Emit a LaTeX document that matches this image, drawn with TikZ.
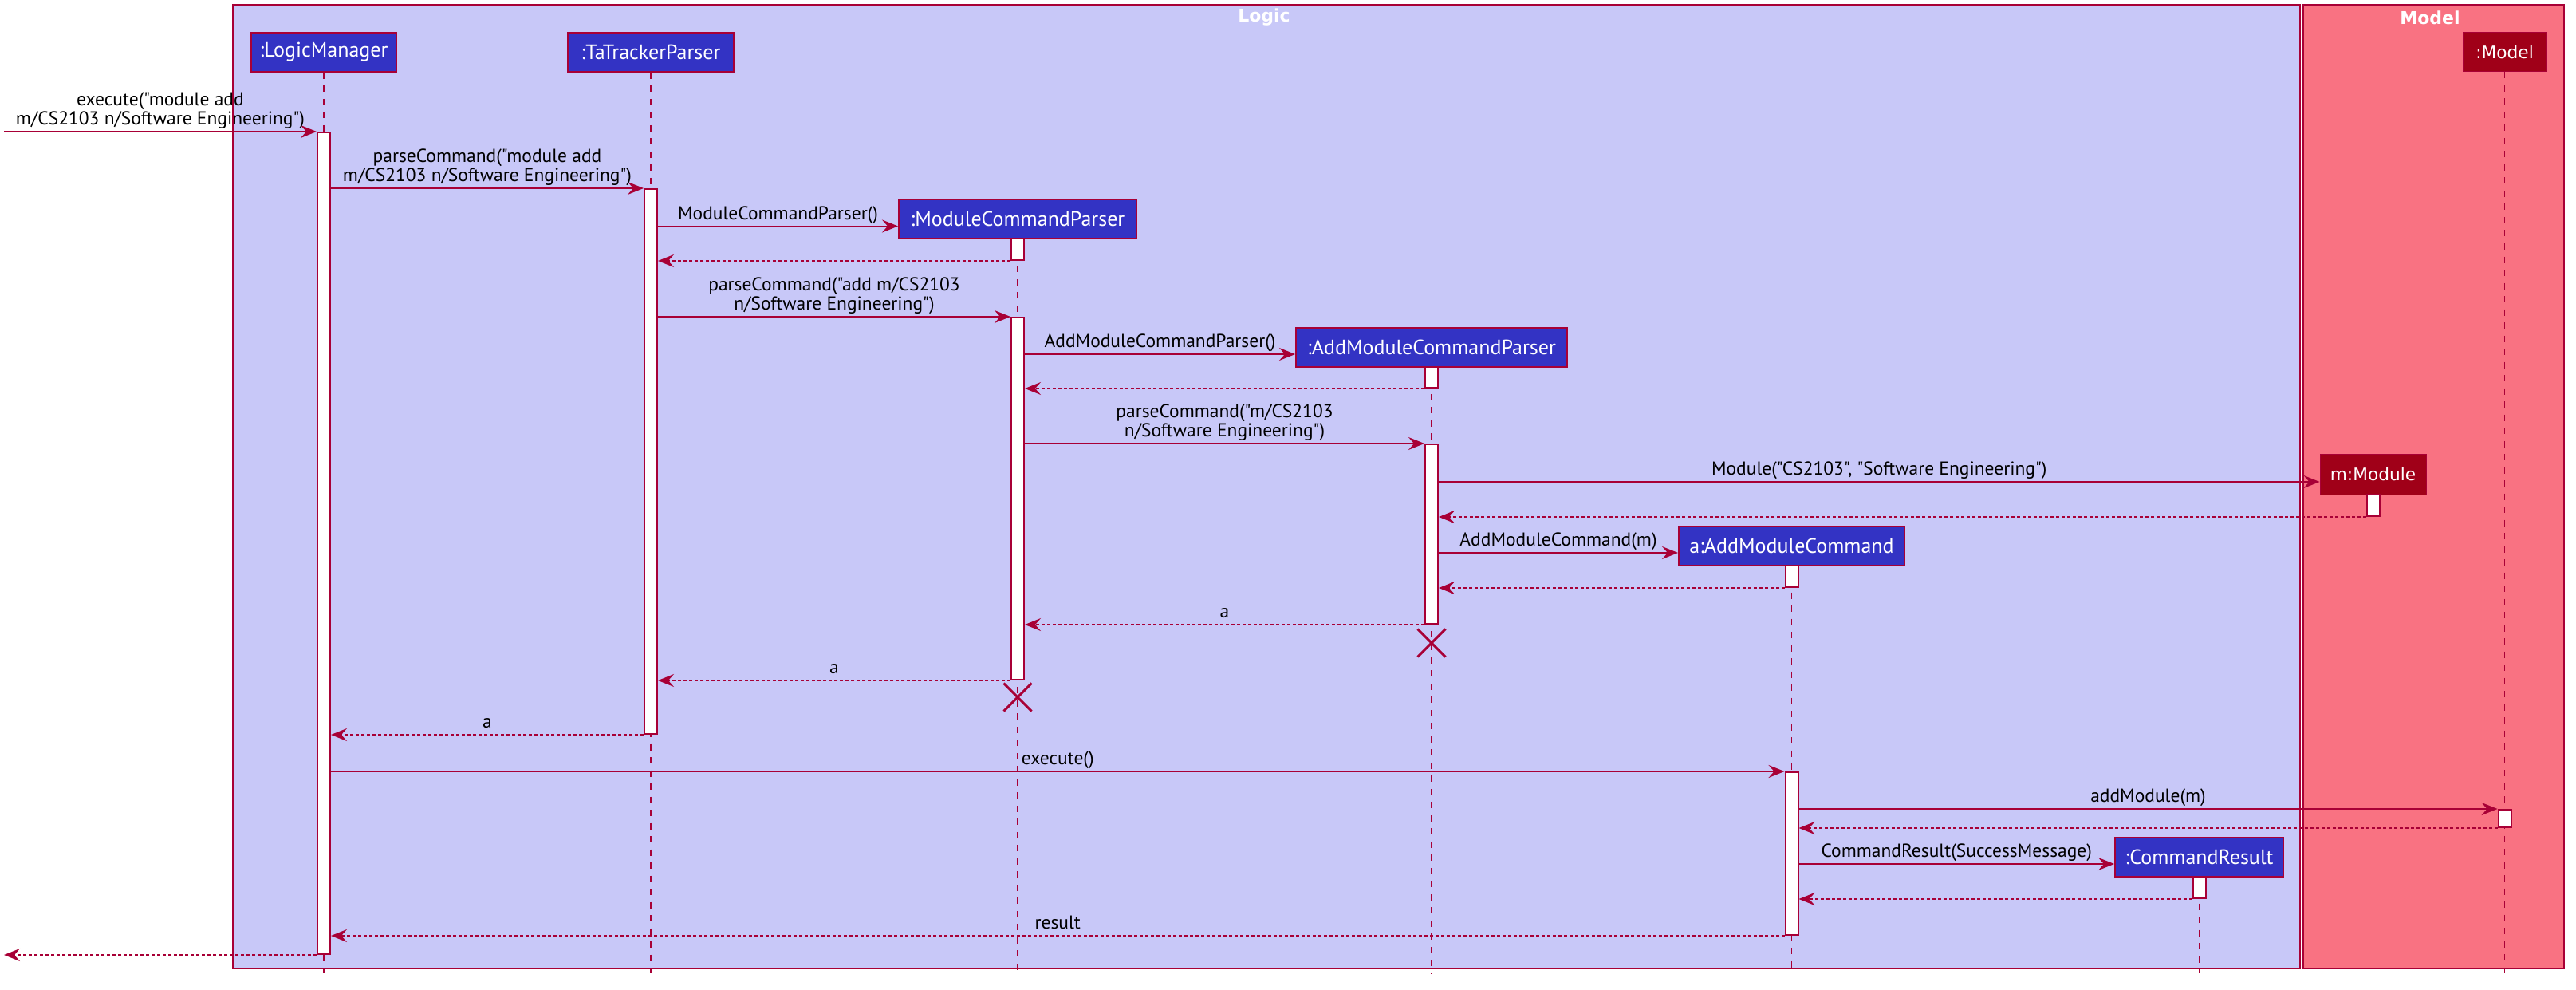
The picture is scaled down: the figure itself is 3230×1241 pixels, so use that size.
\documentclass[tikz,border=0pt]{standalone}
\usepackage{fontspec}
\usetikzlibrary{arrows.meta,calc,shapes.misc}
\newfontfamily\lblf{PT Sans}
\newfontfamily\djv{DejaVu Sans}
\definecolor{bord}{HTML}{A80036}
\definecolor{logicbg}{HTML}{C8C8F8}
\definecolor{modelbg}{HTML}{F97282}
\definecolor{partbg}{HTML}{3333C4}
\definecolor{modpart}{HTML}{A00018}
\pgfdeclarelayer{back}
\pgfdeclarelayer{mid}
\pgfsetlayers{back,mid,main}
\tikzset{
  frame/.style={draw=bord, line width=2pt},
  ftitle/.style={font=\djv\bfseries\fontsize{22}{26}\selectfont, text=white, inner sep=0pt},
  part/.style={rectangle, draw=bord, line width=2pt, fill=partbg, text=white,
    font=\lblf\fontsize{26}{30}\selectfont, minimum height=49pt, inner sep=0pt},
  mpart/.style={part, fill=modpart, line width=1pt, font=\djv\fontsize{21.7}{26}\selectfont},
  life/.style={draw=bord, line width=1.5pt, dash pattern=on 8pt off 8.5pt},
  actbar/.style={rectangle, draw=bord, fill=white, line width=2pt, minimum width=16pt, inner sep=0pt},
  msg/.style={draw=bord, line width=1.7pt, -{Stealth[length=20pt,width=16pt,inset=7pt]}},
  ret/.style={msg, dash pattern=on 4pt off 3pt},
  lbl/.style={midway, anchor=south, inner sep=0pt, align=center, text=black,
    font=\lblf\fontsize{23.5}{24}\selectfont},
  xmark/.style={cross out, draw=bord, line width=3pt, minimum size=32pt, inner sep=0pt}
}
\begin{document}
\begin{tikzpicture}[x=1pt,y=-1pt]
\useasboundingbox (0,0) rectangle (3230,1241);
% frames
\begin{pgfonlayer}{back}
\draw[frame, fill=logicbg] (292,6) rectangle (2884,1214);
\draw[frame, fill=modelbg] (2888,6) rectangle (3215,1214);
\end{pgfonlayer}
\node[ftitle] (logicT) at (1585,22) {Logic};
\node[ftitle] (modelT) at (3047,22) {Model};
\coordinate (bot) at (0,1220);
\coordinate (ext) at (5,0);
% participants
\node[part, minimum width=182pt] (lm) at (406,65.5) {:LogicManager};
\node[part, minimum width=208pt] (tp) at (816,65.5) {:TaTrackerParser};
\node[part, minimum width=298pt] (mcp) at (1276,274.5) {:ModuleCommandParser};
\node[part, minimum width=340pt] (amcp) at (1795,435) {:AddModuleCommandParser};
\node[part, minimum width=283pt] (amc) at (2246.5,684) {a:AddModuleCommand};
\node[part, minimum width=211pt] (cr) at (2757.5,1074) {:CommandResult};
\node[mpart, minimum width=133pt, minimum height=51pt] (mod) at (2975.5,594.5) {m:Module};
\node[mpart, minimum width=105pt] (model) at (3140.5,65.5) {:Model};
% lifelines
\begin{pgfonlayer}{mid}
\foreach \p in {lm,tp,mcp,amcp,amc,cr,mod,model}{
  \draw[life] (\p.south) -- (\p.south |- bot);
}
\end{pgfonlayer}
% activations
\node[actbar, minimum height=1030pt] (lmA) at (406,681) {};
\node[actbar, minimum height=683pt] (tpA) at (816,578.5) {};
\node[actbar, minimum height=27pt] (mcpA1) at (1276,312.5) {};
\node[actbar, minimum height=454pt] (mcpA2) at (1276,625) {};
\node[actbar, minimum height=26pt] (amcpA1) at (1795,473) {};
\node[actbar, minimum height=225pt] (amcpA2) at (1795,669.5) {};
\node[actbar, minimum height=27pt] (amcA1) at (2246.5,722.5) {};
\node[actbar, minimum height=204pt] (amcA2) at (2246.5,1070) {};
\node[actbar, minimum height=27pt] (modA) at (2975.5,633.5) {};
\node[actbar, minimum height=22pt] (modelA) at (3140.5,1026) {};
\node[actbar, minimum height=27pt] (crA) at (2757.5,1112.5) {};
% destroy marks
\node[xmark] (x1) at ($(amcpA2.south)+(0,23)$) {};
\node[xmark] (x2) at ($(mcpA2.south)+(0,21)$) {};
% messages
\draw[msg] (ext |- lmA.north) -- (lmA.north west)
  node[lbl] {execute("module add\\m/CS2103 n/Software Engineering")\strut};
\draw[msg] (lmA.east |- tpA.north) -- (tpA.north west)
  node[lbl] {parseCommand("module add\\m/CS2103 n/Software Engineering")\strut};
\draw[msg] ($(tpA.east |- mcp.west)+(0,9)$) -- ($(mcp.west)+(0,9)$)
  node[lbl] {ModuleCommandParser()\strut};
\draw[ret] (mcpA1.south west) -- (tpA.east |- mcpA1.south);
\draw[msg] (tpA.east |- mcpA2.north) -- (mcpA2.north west)
  node[lbl] {parseCommand("add m/CS2103\\n/Software Engineering")\strut};
\draw[msg] ($(mcpA2.east |- amcp.west)+(0,9)$) -- ($(amcp.west)+(0,9)$)
  node[lbl] {AddModuleCommandParser()\strut};
\draw[ret] (amcpA1.south west) -- (mcpA2.east |- amcpA1.south);
\draw[msg] (mcpA2.east |- amcpA2.north) -- (amcpA2.north west)
  node[lbl] {parseCommand("m/CS2103\\n/Software Engineering")\strut};
\draw[msg] ($(amcpA2.east |- mod.west)+(0,9.5)$) -- ($(mod.west)+(0,9.5)$)
  node[lbl] {Module("CS2103", "Software Engineering")\strut};
\draw[ret] (modA.south west) -- (amcpA2.east |- modA.south);
\draw[msg] ($(amcpA2.east |- amc.west)+(0,9)$) -- ($(amc.west)+(0,9)$)
  node[lbl] {AddModuleCommand(m)\strut};
\draw[ret] (amcA1.south west) -- (amcpA2.east |- amcA1.south);
\draw[ret] (amcpA2.south west) -- (mcpA2.east |- amcpA2.south)
  node[lbl] {a\strut};
\draw[ret] (mcpA2.south west) -- (tpA.east |- mcpA2.south)
  node[lbl] {a\strut};
\draw[ret] (tpA.south west) -- (lmA.east |- tpA.south)
  node[lbl] {a\strut};
\draw[msg] (lmA.east |- amcA2.north) -- (amcA2.north west)
  node[lbl] {execute()\strut};
\draw[msg] (amcA2.east |- modelA.north) -- (modelA.north west)
  node[lbl] {addModule(m)\strut};
\draw[ret] (modelA.south west) -- (amcA2.east |- modelA.south);
\draw[msg] ($(amcA2.east |- cr.west)+(0,9)$) -- ($(cr.west)+(0,9)$)
  node[lbl] {CommandResult(SuccessMessage)\strut};
\draw[ret] (crA.south west) -- (amcA2.east |- crA.south);
\draw[ret] (amcA2.south west) -- (lmA.east |- amcA2.south)
  node[lbl] {result\strut};
\draw[ret] (lmA.south west) -- (ext |- lmA.south);
\end{tikzpicture}
\end{document}
